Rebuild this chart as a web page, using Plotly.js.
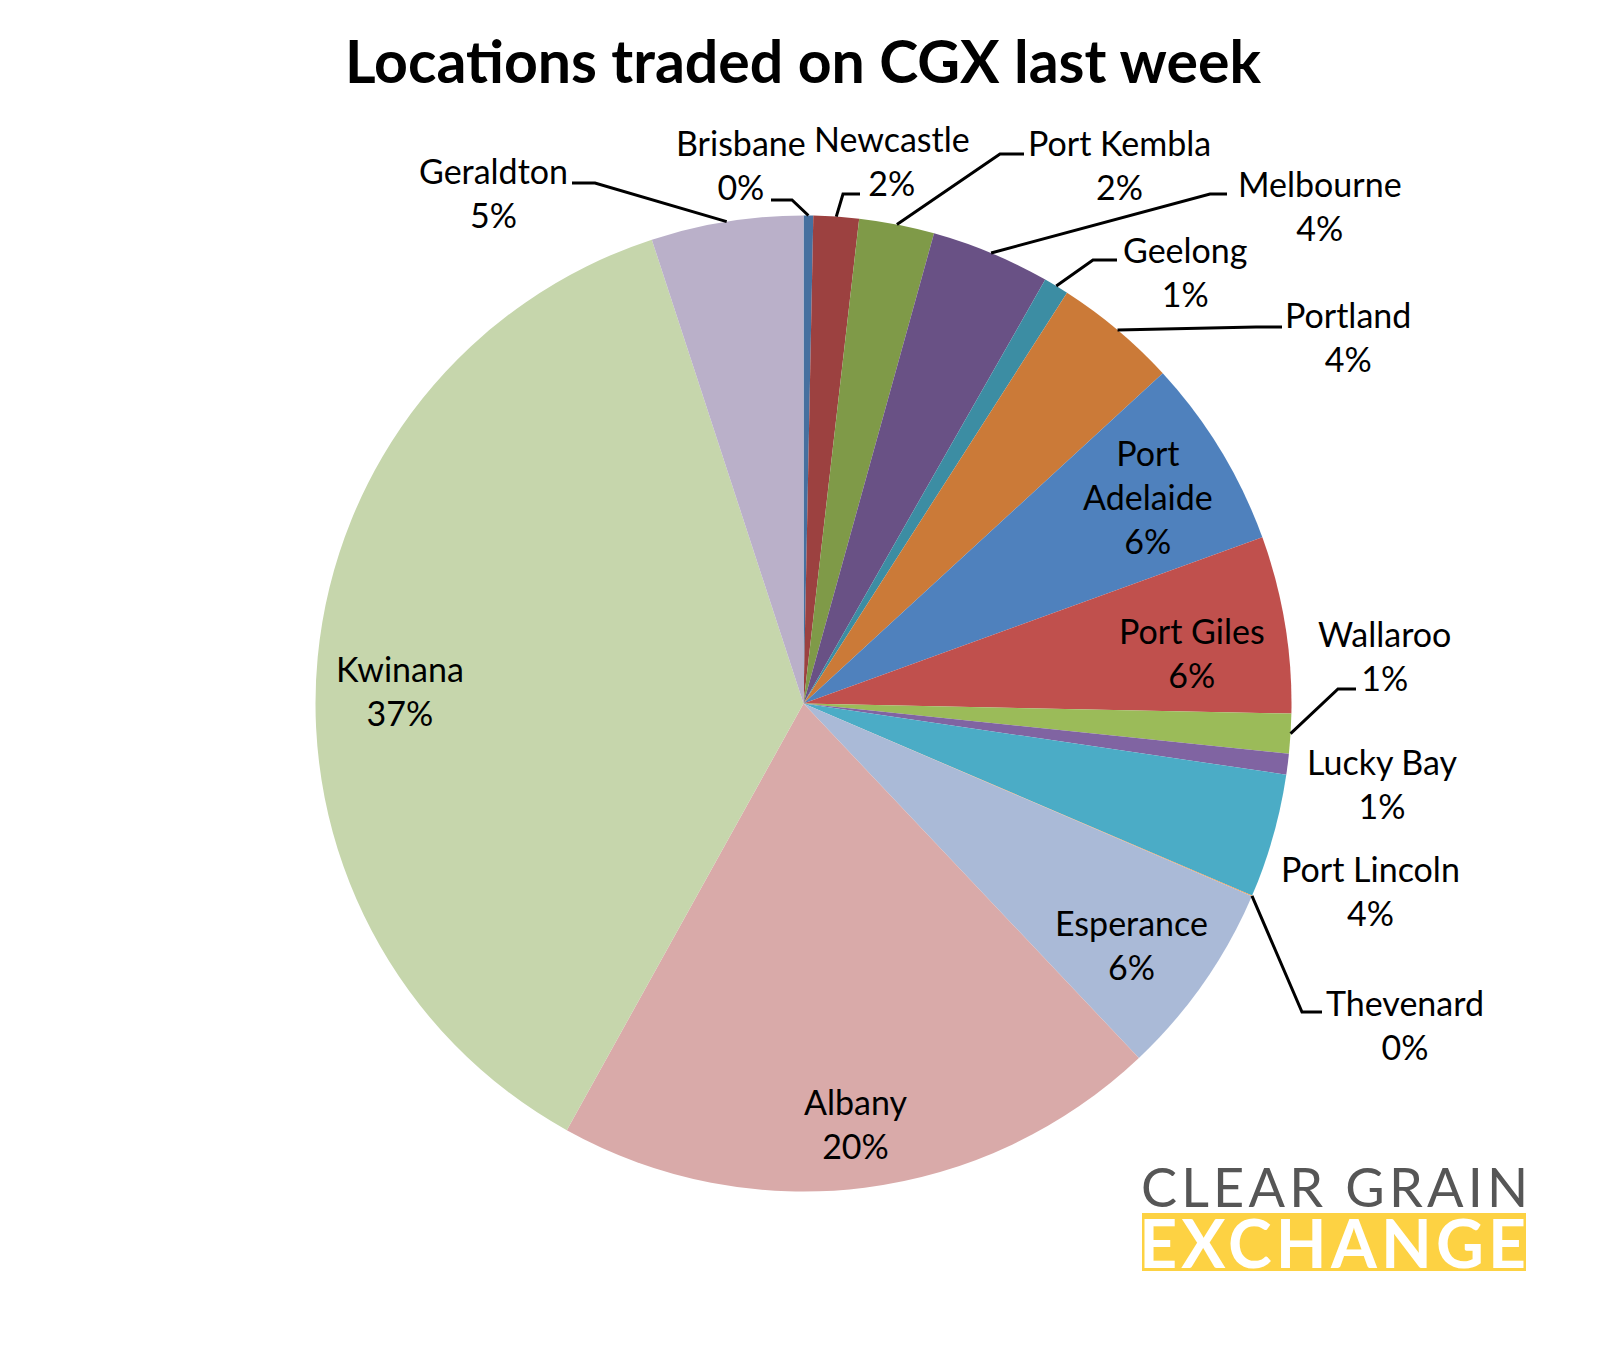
<!DOCTYPE html>
<html>
<head>
<meta charset="utf-8">
<script src="https://cdn.plot.ly/plotly-3.0.1.min.js"></script>
<style>html,body{margin:0;padding:0;background:#fff}</style>
</head>
<body>
<div id="chart" style="width:1608px;height:1351px"></div>
<script>
const locations = ["Brisbane","Newcastle","Port Kembla","Melbourne","Geelong","Portland","Port Adelaide","Port Giles","Wallaroo","Lucky Bay","Port Lincoln","Thevenard","Esperance","Albany","Kwinana","Geraldton"];
const shares = [0.32,1.5,2.49,3.94,0.83,4.09,6.3,5.86,1.31,0.69,4.11,0.02,6.48,20.12,36.91,5.03];
const sliceColors = ["#46709f","#9c4140","#7f9a48","#695185","#3c8da3","#cb7a38","#4f81bd","#c0504d","#9bbb59","#8064a2","#4bacc6","#f79646","#aabad7","#d9aaa9","#c6d6ac","#bab0c9"];

const W = 1608, H = 1351;
const CX = 803.5, CY = 703.5, R = 488;
const FONT = "Lato, Carlito, Calibri, sans-serif";
const LABEL_SIZE = 34;

// label block centres, in page pixels
const labelPos = {
  "Brisbane":[741,164],"Newcastle":[892,161],"Port Kembla":[1119,164],"Melbourne":[1320,205],
  "Geelong":[1185,271],"Portland":[1348,336],"Port Adelaide":[1148,496],"Port Giles":[1192,652],
  "Wallaroo":[1384,655],"Lucky Bay":[1382,784],"Port Lincoln":[1370,890],"Thevenard":[1405,1024],
  "Esperance":[1131,944],"Albany":[855,1123],"Kwinana":[400,690],"Geraldton":[493,193]
};
// leader lines: [elbow, end of the landing], in page pixels
const leaders = {
  "Brisbane":[[792,200],[771,200]],"Newcastle":[[843,194],[860,194]],"Port Kembla":[[1000,154],[1024,154]],
  "Melbourne":[[1210,194],[1227,194]],"Geelong":[[1093,260],[1117,260]],"Portland":[[1256,327],[1282,327]],
  "Wallaroo":[[1338,689],[1356,689]],"Thevenard":[[1302,1012],[1322,1012]],"Geraldton":[[595,183],[572,183]]
};

const total = shares.reduce((a,b)=>a+b,0);
const px = x => x / W, py = y => 1 - y / H;
let cum = 0;
const midAngle = {};
locations.forEach((n,i)=>{ midAngle[n] = (cum + shares[i]/2)/total*2*Math.PI; cum += shares[i]; });

const annotations = locations.map((n,i)=>({
  xref:"paper",yref:"paper",x:px(labelPos[n][0]),y:py(labelPos[n][1]),
  xanchor:"center",yanchor:"middle",align:"center",showarrow:false,
  text:(n==="Port Adelaide"?"Port<br>Adelaide":n)+"<br>"+Math.round(shares[i])+"%",
  font:{family:FONT,size:LABEL_SIZE,color:"#000"}
}));

const shapes = Object.keys(leaders).map(n=>{
  const a = midAngle[n];
  const sx = CX + R*Math.sin(a), sy = CY - R*Math.cos(a);
  const [e,f] = leaders[n];
  return {type:"path",xref:"paper",yref:"paper",
    path:`M${px(sx)},${py(sy)} L${px(e[0])},${py(e[1])} L${px(f[0])},${py(f[1])}`,
    line:{color:"#000",width:3}};
});

// logo
shapes.push({type:"rect",xref:"paper",yref:"paper",x0:px(1142),x1:px(1526),y0:py(1213),y1:py(1271),fillcolor:"#fdd243",line:{width:0},layer:"below"});
annotations.push({xref:"paper",yref:"paper",x:px(1336),y:py(1186),xanchor:"center",yanchor:"middle",showarrow:false,text:"CLEAR GRAIN",font:{family:"Lato, sans-serif",size:54,color:"#565656"}});
annotations.push({xref:"paper",yref:"paper",x:px(1334),y:py(1242),xanchor:"center",yanchor:"middle",showarrow:false,text:"<b>EXCHANGE</b>",font:{family:"Lato, sans-serif",size:66,color:"#ffffff"}});

Plotly.newPlot("chart",[{
  type:"pie",labels:locations,values:shares,sort:false,direction:"clockwise",rotation:0,
  marker:{colors:sliceColors,line:{width:0}},textinfo:"none",hoverinfo:"label+percent",showlegend:false,
  domain:{x:[px(CX-R),px(CX+R)],y:[py(CY+R),py(CY-R)]}
}],{
  width:W,height:H,margin:{l:0,r:0,t:0,b:0},paper_bgcolor:"#fff",showlegend:false,
  title:{text:"<b>Locations traded on CGX last week</b>",x:px(803),xref:"paper",xanchor:"center",y:py(62),yref:"paper",yanchor:"middle",font:{family:FONT,size:59,color:"#000"}},
  annotations,shapes
},{displayModeBar:false,staticPlot:true}).then(gd=>{
  const texts = gd.querySelectorAll(".annotation-text");
  texts.forEach(t=>{
    if (t.textContent==="CLEAR GRAIN") t.style.letterSpacing="4.2px";
    if (t.textContent==="EXCHANGE") t.style.letterSpacing="4.2px";
  });
});
</script>
</body>
</html>
